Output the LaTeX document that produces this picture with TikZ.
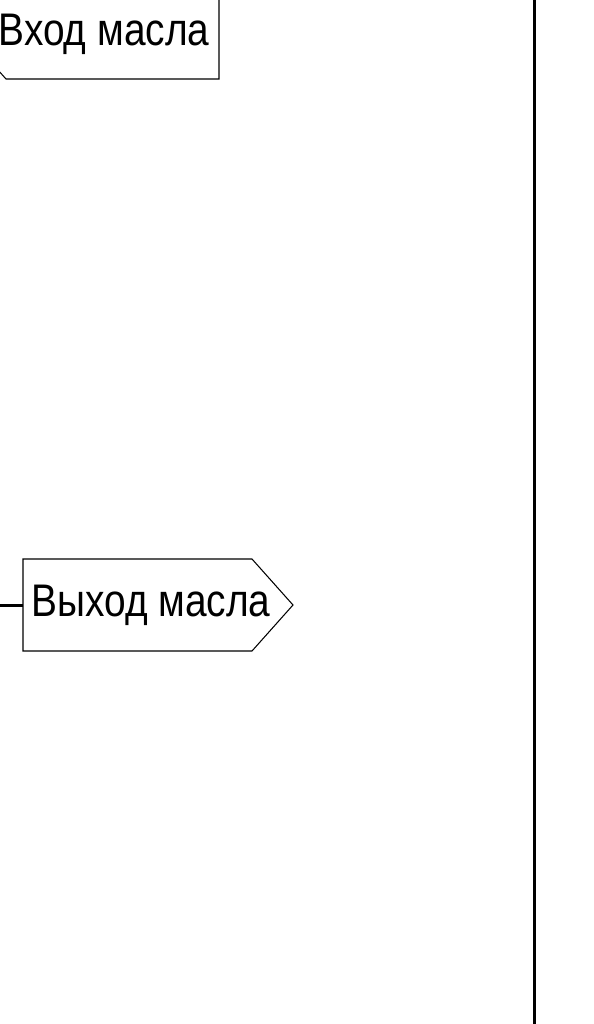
\documentclass[tikz,border=0pt]{standalone}
\usepackage{fontspec}
\setmainfont{Liberation Sans}
\newfontfamily\tagfont[FakeStretch=0.85]{Liberation Sans}
\tikzset{
	tag/.style={line width=0.3pt},
	pipe/.style={line width=0.85pt},
	tagtext/.style={font=\tagfont\fontsize{13}{15}\selectfont, inner sep=0pt, anchor=base}
}
\begin{document}
\begin{tikzpicture}[x=0.01cm,y=-0.01cm]
		\useasboundingbox (0,0) rectangle (594,1024);
		
		% Points
		\coordinate (inTip) at (-35,33);
		\coordinate (inTL) at (6,-13);
		\coordinate (inTR) at (219,-13);
		\coordinate (inBR) at (219,79);
		\coordinate (inBL) at (6,79);
		
		\coordinate (outTL) at (23,559);
		\coordinate (outTR) at (252,559);
		\coordinate (outTip) at (293,605);
		\coordinate (outBR) at (252,651);
		\coordinate (outBL) at (23,651);
		\coordinate (outW) at (23,605);
		\coordinate (lead) at (0,605);
		
		\coordinate (wallTop) at (534,0);
		\coordinate (wallBot) at (534,1024);
		
		% Tags
		\draw[tag] (inTip) -- (inTL) -- (inTR) -- (inBR) -- (inBL) -- cycle;
		\draw[tag] (outTL) -- (outTR) -- (outTip) -- (outBR) -- (outBL) -- cycle;
		\node[tagtext] (inText) at (104,45) {Вход масла};
		\node[tagtext] (outText) at (151,616) {Выход масла};
		
		% Segments
		\draw[pipe] (lead) -- (outW);
		\draw[pipe] (wallTop) -- (wallBot);
	\end{tikzpicture}
\end{document}
